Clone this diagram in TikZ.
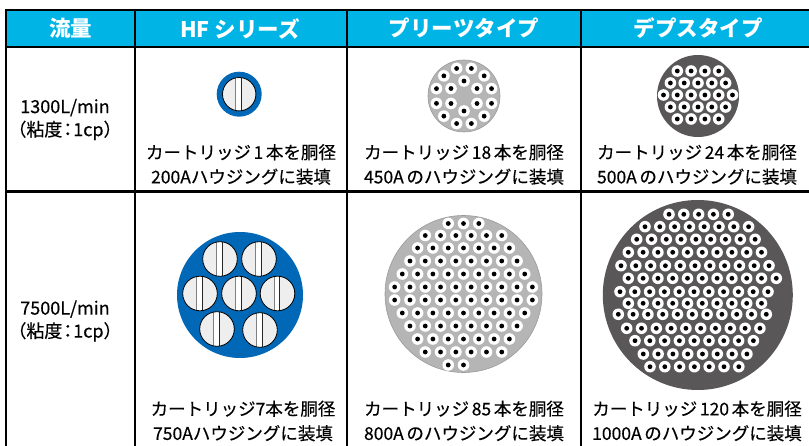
\documentclass[tikz,border=0pt]{standalone}
\usepackage{fontspec}
\setmainfont{Noto Sans CJK JP}
\newfontfamily\jpmid{Noto Sans CJK JP}[FakeBold=0.35]
\definecolor{hdrblue}{HTML}{00B4E6}
\definecolor{hfblue}{HTML}{0068B7}
\definecolor{pleatgray}{HTML}{B5B5B5}
\definecolor{depthgray}{HTML}{595757}
\definecolor{cartfill}{HTML}{EEEEEE}
\newcommand{\jsp}{\hspace{0.15em}}
% one HF cartridge seen from the end: x, y, radius
\newcommand{\cartridge}[3]{%
  \begin{scope}
    \clip (#1,#2) circle (#3);
    \fill[cartfill] (#1,#2) circle (#3);
    \fill[white] ({#1-0.2*#3},{#2-#3}) rectangle ({#1+0.14*#3},{#2+#3});
    \draw[gray,line width=1pt] ({#1-0.2*#3},{#2-#3}) -- ({#1-0.2*#3},{#2+#3});
    \draw[black!85,line width=1pt] ({#1+0.14*#3},{#2-#3}) -- ({#1+0.14*#3},{#2+#3});
  \end{scope}
  \draw[line width=0.8pt] (#1,#2) circle (#3);}
% one small filter seen from the end
\newcommand{\pdisc}[2]{%
  \fill[white] (#1,#2) circle (5.8);
  \fill[black] (#1,#2) circle (2.4);}

\begin{document}
\begin{tikzpicture}[x=1pt,y=-1pt,
  hdr/.style={text=white,font=\bfseries\fontsize{21.5}{24}\selectfont},
  rowlbl/.style={align=center,font=\jpmid\fontsize{18}{23}\selectfont},
  captxt/.style={align=center,font=\jpmid\fontsize{17.5}{24.5}\selectfont},
  tabline/.style={line width=2.5pt}]
	\useasboundingbox (0,0) rectangle (809,446);
	
	% Header band
	\fill[hdrblue] (6,10) rectangle (809,47);
	
	% Table lines
	\draw[tabline] (5,10) -- (809,10);
	\draw[tabline] (6,47) -- (809,47);
	\draw[tabline] (6,191.5) -- (809,191.5);
	\foreach \xx in {6,135,347,581}{
		\draw[tabline] (\xx,9) -- (\xx,446);
	}
	
	% HF, 1 cartridge
	\fill[hfblue] (239.2,94.2) circle (22.5);
	\cartridge{239.2}{94.2}{16.7}
	
	% Pleats, 18 cartridges
	\fill[pleatgray] (464,96) circle (36);
	\draw[gray!80,line width=0.6pt] (464,96) circle (36);
	\foreach \a in {15,45,...,345}{
		\pdisc{{464+28.5*cos(\a)}}{{96+28.5*sin(\a)}}
	}
	\foreach \a in {30,90,...,330}{
		\pdisc{{464+15*cos(\a)}}{{96+15*sin(\a)}}
	}
	
	% Depth, 24 cartridges
	\fill[depthgray] (698,96) circle (41);
	\foreach \yy/\nn in {71/4,83/5,95/6,107/5,119/4}{
		\foreach \i in {1,...,\nn}{
			\pgfmathsetmacro\xx{698+(\i-(\nn+1)/2)*13.8}
			\pdisc{\xx}{\yy}
		}
	}
	
	% HF, 7 cartridges
	\fill[hfblue] (240,295) circle (63);
	\foreach \cx/\cy in {220/259,259/259,200/293.5,239/293.5,277.5/293.5,217/329,260/330}{
		\cartridge{\cx}{\cy}{17.3}
	}
	
	% Pleats, 85 cartridges
	\fill[pleatgray] (463.5,294) circle (78.5);
	\draw[gray!80,line width=0.6pt] (463.5,294) circle (78.5);
	\foreach \yy/\nn in {223.5/3,235.5/6,248/7,261/8,274/9,287/10,300/10,313/9,326/8,339/7,352/6}{
		\foreach \i in {1,...,\nn}{
			\pgfmathsetmacro\xx{463.5+(\i-(\nn+1)/2)*15.3}
			\pdisc{\xx}{\yy}
		}
	}
	\pdisc{448.2}{365}
	\pdisc{463.5}{365}
	
	% Depth, 120 cartridges
	\fill[depthgray] (697.8,295) circle (95);
	\foreach \yy/\xs/\nn in {-80.7/-28.8/5,-68.3/-52.8/8,-55.7/-61.1/9,-42.7/-69.5/10,
			-29.3/-76.8/11,-16.7/-69.5/11,-3.3/-77.8/11,8.3/-69.5/10,19.3/-79.5/11,
			33.3/-71.1/10,45.7/-62.8/9,59/-54.5/8,71.7/-47.8/7}{
		\foreach \i in {1,...,\nn}{
			\pgfmathsetmacro\xx{697.8+\xs+(\i-1)*14.8}
			\pgfmathsetmacro\yv{295+\yy}
			\pdisc{\xx}{\yv}
		}
	}
	
	% Header texts
	\node[hdr] (hflow) at (70.5,28.5) {流量};
	\node[hdr] (hhf) at (240,28.5) {HF シリーズ};
	\node[hdr] (hpleat) at (464,28.5) {プリーツタイプ};
	\node[hdr] (hdepth) at (698,28.5) {デプスタイプ};
	
	% Flow rates
	\node[rowlbl] (flowa) at (65,119.5) {1300L/min\\（粘度\hspace{-0.2em}：\hspace{-0.2em}1cp）};
	\node[rowlbl] (flowb) at (65,321) {7500L/min\\（粘度\hspace{-0.2em}：\hspace{-0.2em}1cp）};
	
	% Captions
	\node[captxt] (capa) at (241,164.5) {カートリッジ\jsp1\jsp 本を胴径\\200Aハウジングに装填};
	\node[captxt] (capb) at (464,164.5) {カートリッジ\jsp18\jsp 本を胴径\\450A\jsp のハウジングに装填};
	\node[captxt] (capc) at (697,164.5) {カートリッジ\jsp24\jsp 本を胴径\\500A\jsp のハウジングに装填};
	\node[captxt] (capd) at (243,421) {カートリッジ7本を胴径\\750Aハウジングに装填};
	\node[captxt] (cape) at (464,421) {カートリッジ\jsp85\jsp 本を胴径\\800A\jsp のハウジングに装填};
	\node[captxt] (capf) at (697,421) {カートリッジ\jsp120\jsp 本を胴径\\1000A\jsp のハウジングに装填};
	
\end{tikzpicture}
\end{document}
